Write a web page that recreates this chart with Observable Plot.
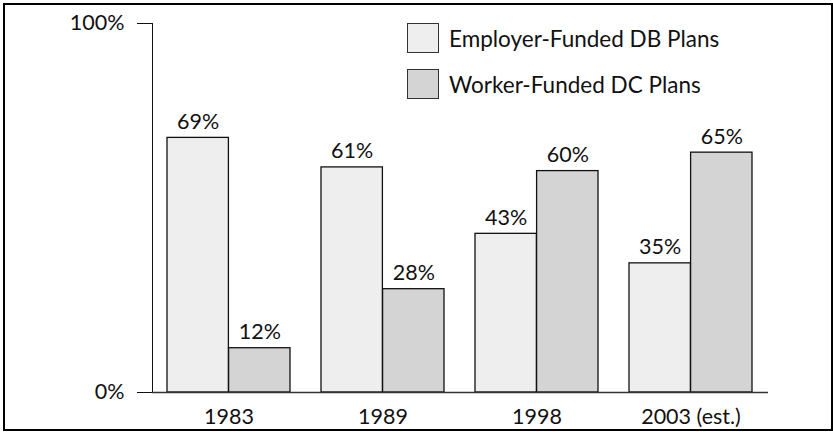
<!DOCTYPE html>
<html>
<head>
<meta charset="utf-8">
<script src="https://cdn.jsdelivr.net/npm/d3@7"></script>
<script src="https://cdn.jsdelivr.net/npm/@observablehq/plot@0.6"></script>
<style>
  html, body { margin: 0; padding: 0; background: #fff; }
  #wrap { position: relative; width: 833px; height: 432px; overflow: hidden; font-family: Lato, "Open Sans", sans-serif; }
  #chart { position: absolute; left: 0; top: 0; }
  #border { position: absolute; left: 3px; top: 3px; width: 826px; height: 424px; border: 2px solid #000; pointer-events: none; }
  #legend { position: absolute; left: 407px; top: 23px; font-size: 22.5px; color: #111; }
  .item { display: flex; align-items: center; height: 30px; margin-bottom: 16px; }
  .sw { width: 30px; height: 28px; border: 1px solid #333; margin-right: 10px; box-sizing: content-box; }
</style>
</head>
<body>
<div id="wrap">
  <div id="chart"></div>
  <div id="legend"></div>
  <div id="border"></div>
</div>
<script>
const years = ["1983", "1989", "1998", "2003 (est.)"];
const dbValues = [69, 61, 43, 35];
const dcValues = [12, 28, 60, 65];
const seriesNames = ["Employer-Funded DB Plans", "Worker-Funded DC Plans"];
const seriesColors = ["#eeeeee", "#d4d4d4"];
const yTicks = [0, 100];

const db = years.map((y, i) => ({year: y, value: dbValues[i]}));
const dc = years.map((y, i) => ({year: y, value: dcValues[i]}));

const W = 833, H = 432;
const mL = 152, mR = 65;
const step = (W - mL - mR) / (years.length - 0.2 + 0.2);
const bw = step * 0.8;
const half = bw / 2;
const font = 'Lato, "Open Sans", sans-serif';

const chart = Plot.plot({
  width: W,
  height: H,
  marginTop: 23,
  marginBottom: 40,
  marginLeft: mL,
  marginRight: mR,
  style: {fontFamily: font, fontSize: "21.5px", color: "#111", background: "transparent"},
  x: {type: "band", domain: years, paddingInner: 0.2, paddingOuter: 0.1, label: null, tickSize: 0, tickPadding: 16},
  y: {domain: [0, 100], ticks: yTicks, tickFormat: d => d + "%", tickSize: 15, tickPadding: 13, label: null, line: true},
  marks: [
    Plot.barY(db, {x: "year", y: "value", fill: seriesColors[0], stroke: "#111", strokeWidth: 1.3, insetRight: half}),
    Plot.barY(dc, {x: "year", y: "value", fill: seriesColors[1], stroke: "#111", strokeWidth: 1.3, insetLeft: half}),
    Plot.text(db, {x: "year", y: "value", text: d => d.value + "%", dx: -half / 2, dy: -9, lineAnchor: "bottom", fontSize: 21.5, fill: "#111"}),
    Plot.text(dc, {x: "year", y: "value", text: d => d.value + "%", dx: half / 2, dy: -9, lineAnchor: "bottom", fontSize: 21.5, fill: "#111"}),
    Plot.ruleY([0], {stroke: "#333", strokeWidth: 1.5})
  ]
});
document.getElementById("chart").appendChild(chart);

const legend = document.getElementById("legend");
seriesNames.forEach((name, i) => {
  const it = document.createElement("div");
  it.className = "item";
  const sw = document.createElement("div");
  sw.className = "sw";
  sw.style.background = seriesColors[i];
  const t = document.createElement("span");
  t.textContent = name;
  it.appendChild(sw);
  it.appendChild(t);
  legend.appendChild(it);
});
</script>
</body>
</html>
